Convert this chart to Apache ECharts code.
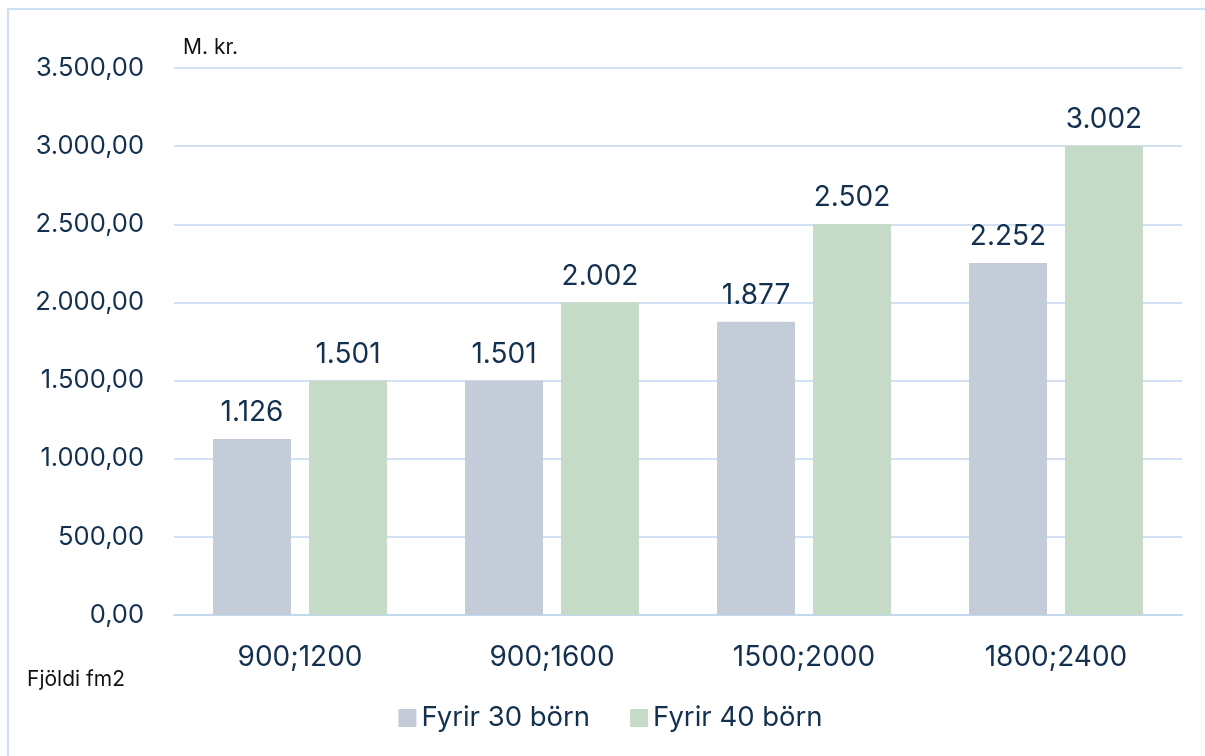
<!DOCTYPE html>
<html>
<head>
<meta charset="utf-8">
<script src="https://cdn.jsdelivr.net/npm/echarts@6/dist/echarts.min.js"></script>
<style>
  html, body { margin: 0; padding: 0; background: #fff; }
  #chart { position: absolute; left: 7px; top: 8px; width: 1205px; height: 756px;
           border-left: 2px solid #cfe0f3; border-top: 2px solid #cfe0f3; box-sizing: border-box; }
</style>
</head>
<body>
<div id="chart"></div>
<script>
// gögn
var categories = ['900;1200', '900;1600', '1500;2000', '1800;2400'];
var seriesNames = ['Fyrir 30 börn', 'Fyrir 40 börn'];
var born30 = [1126, 1501, 1877, 2252];
var born40 = [1501, 2002, 2502, 3002];
var yTicks = [0, 500, 1000, 1500, 2000, 2500, 3000, 3500];

var textColor = '#13304f';
var fontName = 'Inter, "Noto Sans", sans-serif';

function fmtThousands(v) {
    return String(Math.round(v)).replace(/\B(?=(\d{3})+(?!\d))/g, '.');
}

var chart = echarts.init(document.getElementById('chart'));
var option = {
    animation: false,
    textStyle: { fontFamily: fontName },
    grid: { left: 165, right: 30, top: 58, bottom: 149 },
    legend: {
        bottom: 27,
        left: 'center',
        itemWidth: 18,
        itemHeight: 18,
        itemGap: 40,
        icon: 'rect',
        textStyle: { fontSize: 27.5, color: textColor, fontFamily: fontName },
        data: seriesNames
    },
    graphic: [
        { type: 'text', left: 174, top: 27, style: { text: 'M. kr.', fontSize: 21, fill: '#111', fontFamily: fontName } },
        { type: 'text', left: 18, top: 659, style: { text: 'Fjöldi fm2', fontSize: 21, fill: '#111', fontFamily: fontName } }
    ],
    xAxis: {
        type: 'category',
        data: categories,
        axisLine: { lineStyle: { color: '#c3d9f0', width: 2 } },
        axisTick: { show: false },
        axisLabel: { fontSize: 28, color: textColor, margin: 29, fontFamily: fontName }
    },
    yAxis: {
        type: 'value',
        min: yTicks[0],
        max: yTicks[yTicks.length - 1],
        interval: 500,
        axisLine: { show: false },
        axisTick: { show: false },
        splitLine: { lineStyle: { color: '#c3d9f0', width: 1.5 } },
        axisLabel: {
            fontSize: 25.5, color: textColor, margin: 30, fontFamily: fontName,
            formatter: function (v) { return fmtThousands(v) + ',00'; }
        }
    },
    series: [
        {
            name: seriesNames[0], type: 'bar', data: born30,
            barWidth: 78, barGap: '23%',
            itemStyle: { color: '#c5ccd9' },
            label: { show: true, position: 'top', distance: 12, fontSize: 28, color: textColor, fontFamily: fontName,
                     formatter: function (p) { return fmtThousands(p.value); } }
        },
        {
            name: seriesNames[1], type: 'bar', data: born40,
            barWidth: 78,
            itemStyle: { color: '#c5dbc8' },
            label: { show: true, position: 'top', distance: 12, fontSize: 28, color: textColor, fontFamily: fontName,
                     formatter: function (p) { return fmtThousands(p.value); } }
        }
    ]
};
chart.setOption(option);
</script>
</body>
</html>
